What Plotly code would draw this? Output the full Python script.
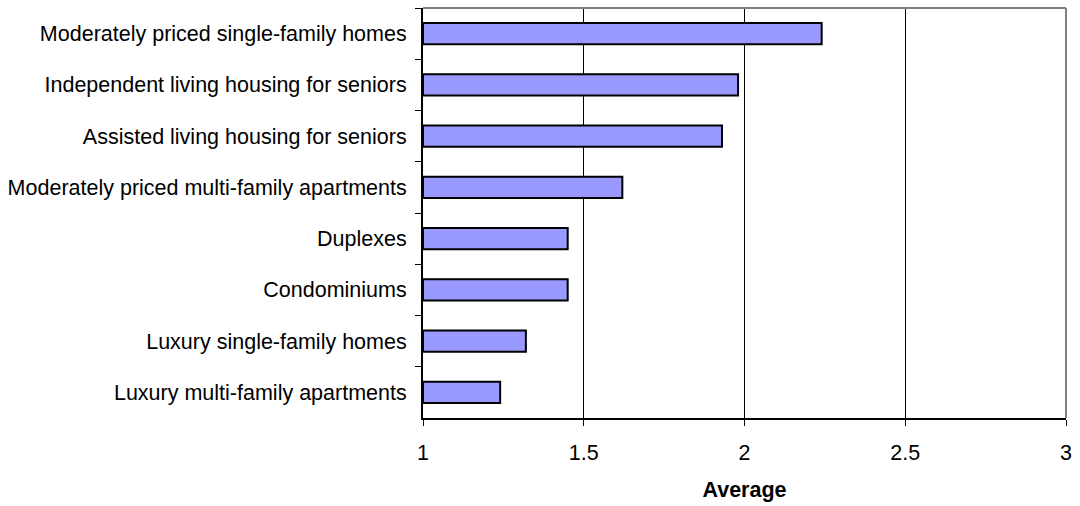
import plotly.graph_objects as go

# Housing types, listed top to bottom as drawn
categories = [
    "Moderately priced single-family homes",
    "Independent living housing for seniors",
    "Assisted living housing for seniors",
    "Moderately priced multi-family apartments",
    "Duplexes",
    "Condominiums",
    "Luxury single-family homes",
    "Luxury multi-family apartments",
]
averages = [2.24, 1.98, 1.93, 1.62, 1.45, 1.45, 1.32, 1.24]

x_ticks = [1, 1.5, 2, 2.5, 3]
x_tick_labels = ["1", "1.5", "2", "2.5", "3"]

FONT = "Liberation Sans, Arial, sans-serif"
FS = 21.5

# bars start at the axis origin (1) and extend to each average
fig = go.Figure(
    go.Bar(
        x=[v - 1 for v in averages],
        y=categories,
        orientation="h",
        base=1,
        width=0.41,
        marker=dict(color="#9999FF", line=dict(color="black", width=2)),
        customdata=averages,
        hovertemplate="%{y}: %{customdata}<extra></extra>",
    )
)

fig.update_layout(
    width=1080,
    height=506,
    margin=dict(l=423, r=8, t=8, b=84),
    paper_bgcolor="white",
    plot_bgcolor="white",
    showlegend=False,
    font=dict(family=FONT, size=FS, color="black"),
)

fig.update_xaxes(
    range=[1, 3],
    tickvals=x_ticks,
    ticktext=x_tick_labels,
    showgrid=True,
    gridcolor="black",
    gridwidth=1,
    showline=True,
    linecolor="black",
    linewidth=2,
    ticks="outside",
    ticklen=6,
    tickcolor="black",
    tickwidth=1,
    zeroline=False,
    ticklabelstandoff=8,
    tickfont=dict(size=FS),
    title=dict(text="Average", font=dict(size=FS, weight="bold"), standoff=18),
)

fig.update_yaxes(
    autorange="reversed",
    showgrid=False,
    showline=True,
    linecolor="black",
    linewidth=2,
    ticks="outside",
    tickson="boundaries",
    ticklen=6,
    tickcolor="black",
    tickwidth=1,
    ticklabelstandoff=10,
    tickfont=dict(size=FS),
)

# grey frame along the top and right of the plot area
fig.add_shape(type="line", xref="paper", yref="paper", x0=0, x1=1, y0=1, y1=1,
              line=dict(color="#808080", width=2))
fig.add_shape(type="line", xref="paper", yref="paper", x0=1, x1=1, y0=0, y1=1,
              line=dict(color="#808080", width=2))

fig.write_html("out.html")
